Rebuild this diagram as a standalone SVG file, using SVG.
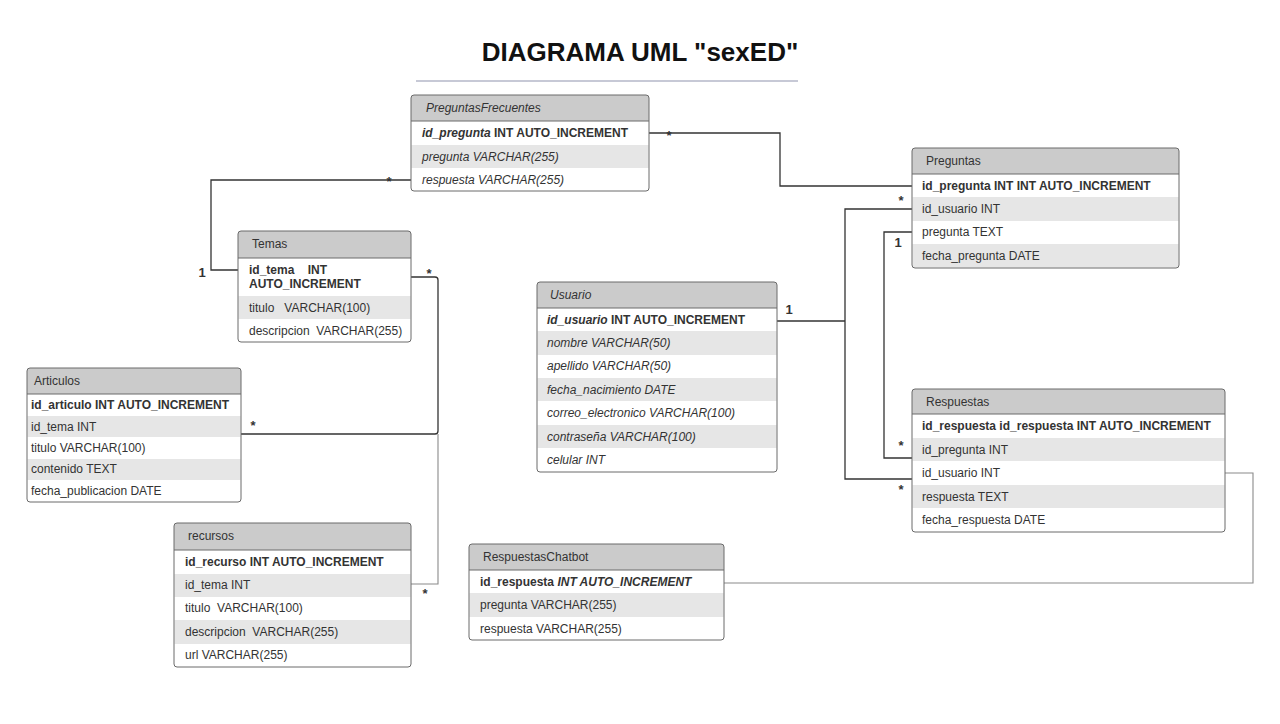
<svg xmlns="http://www.w3.org/2000/svg" width="1280" height="724" viewBox="0 0 1280 724">
<style>
text{font-family:"Liberation Sans",Arial,sans-serif;fill:#333;}
.title{font-size:26px;font-weight:bold;fill:#111;}
.hdr{fill:#cbcbcb;}
.alt{fill:#e6e6e6;}
.box{fill:none;stroke:#6a6a6a;stroke-width:1;}
.sep{stroke:#6a6a6a;stroke-width:1;}
.ht{font-size:12px;}
.t{font-size:12px;}
.b{font-weight:bold;}
.i{font-style:italic;}
.lbl{font-size:13px;font-weight:bold;text-anchor:middle;}
.one{font-size:13px;font-weight:bold;text-anchor:middle;}
.c{fill:none;stroke:#333;stroke-width:1.3;}
.cl{fill:none;stroke:#8a8a8a;stroke-width:1.1;}
</style>
<rect width="1280" height="724" fill="#fff"/>
<text class="title" x="640" y="61" text-anchor="middle">DIAGRAMA UML "sexED"</text>
<line x1="416" y1="81" x2="798" y2="81" stroke="#b4b7c9" stroke-width="1.5"/>

<g id="connectors">
<path class="c" d="M649 133 H780 V186 H912"/>
<path class="c" d="M411 180 H211 V270 H238"/>
<path class="c" d="M411 277 H435 Q438 277 438 280 V431 Q438 434 435 434 H241"/>
<path class="cl" d="M438 434 V584 H411"/>
<path class="c" d="M777 321 H845"/>
<path class="c" d="M912 209 H845 V479 H912"/>
<path class="c" d="M912 232 H884 V458 H912"/>
<path class="cl" d="M1225 473 H1253 V583 H724"/>
<text class="lbl" x="669" y="140">*</text>
<text class="lbl" x="901" y="205">*</text>
<text class="lbl" x="389" y="186">*</text>
<text class="lbl" x="429" y="278">*</text>
<text class="lbl" x="253" y="430">*</text>
<text class="lbl" x="425" y="598">*</text>
<text class="lbl" x="901" y="450">*</text>
<text class="lbl" x="901" y="494">*</text>
<text class="one" x="202" y="277">1</text>
<text class="one" x="789" y="314">1</text>
<text class="one" x="898" y="247">1</text>
</g>

<g id="PreguntasFrecuentes">
<rect x="411" y="95" width="238" height="96" rx="3" fill="#fff"/>
<rect class="hdr" x="411" y="95" width="238" height="26" rx="3"/>
<rect class="hdr" x="411" y="110" width="238" height="11"/>
<rect class="alt" x="411.5" y="145" width="237" height="23"/>
<line class="sep" x1="411" y1="121" x2="649" y2="121"/>
<rect class="box" x="411" y="95" width="238" height="96" rx="3"/>
<text class="ht i" x="426" y="112">PreguntasFrecuentes</text>
<text class="t b" x="422" y="137"><tspan class="i">id_pregunta</tspan> INT AUTO_INCREMENT</text>
<text class="t i" x="422" y="161">pregunta VARCHAR(255)</text>
<text class="t i" x="422" y="184">respuesta VARCHAR(255)</text>
</g>

<g id="Temas">
<rect x="238" y="231" width="173" height="111" rx="3" fill="#fff"/>
<rect class="hdr" x="238" y="231" width="173" height="27" rx="3"/>
<rect class="hdr" x="238" y="246" width="173" height="12"/>
<rect class="alt" x="238.5" y="296" width="172" height="23"/>
<line class="sep" x1="238" y1="258" x2="411" y2="258"/>
<rect class="box" x="238" y="231" width="173" height="111" rx="3"/>
<text class="ht" x="252" y="248">Temas</text>
<text class="t b" x="249" y="274" xml:space="preserve">id_tema    INT</text>
<text class="t b" x="249" y="288">AUTO_INCREMENT</text>
<text class="t" x="249" y="312" xml:space="preserve">titulo   VARCHAR(100)</text>
<text class="t" x="249" y="335" xml:space="preserve">descripcion  VARCHAR(255)</text>
</g>

<g id="Articulos">
<rect x="27" y="368" width="214" height="134" rx="3" fill="#fff"/>
<rect class="hdr" x="27" y="368" width="214" height="26" rx="3"/>
<rect class="hdr" x="27" y="383" width="214" height="11"/>
<rect class="alt" x="27.5" y="416" width="213" height="21"/>
<rect class="alt" x="27.5" y="459" width="213" height="21"/>
<line class="sep" x1="27" y1="394" x2="241" y2="394"/>
<rect class="box" x="27" y="368" width="214" height="134" rx="3"/>
<text class="ht" x="34" y="385">Articulos</text>
<text class="t b" x="31" y="409">id_articulo INT AUTO_INCREMENT</text>
<text class="t" x="31" y="431">id_tema INT</text>
<text class="t" x="31" y="452">titulo VARCHAR(100)</text>
<text class="t" x="31" y="473">contenido TEXT</text>
<text class="t" x="31" y="495">fecha_publicacion DATE</text>
</g>

<g id="recursos">
<rect x="174" y="523" width="237" height="144" rx="3" fill="#fff"/>
<rect class="hdr" x="174" y="523" width="237" height="27" rx="3"/>
<rect class="hdr" x="174" y="538" width="237" height="12"/>
<rect class="alt" x="174.5" y="574" width="236" height="23"/>
<rect class="alt" x="174.5" y="620" width="236" height="24"/>
<line class="sep" x1="174" y1="550" x2="411" y2="550"/>
<rect class="box" x="174" y="523" width="237" height="144" rx="3"/>
<text class="ht" x="188" y="540">recursos</text>
<text class="t b" x="185" y="566">id_recurso INT AUTO_INCREMENT</text>
<text class="t" x="185" y="589">id_tema INT</text>
<text class="t" x="185" y="612" xml:space="preserve">titulo  VARCHAR(100)</text>
<text class="t" x="185" y="636" xml:space="preserve">descripcion  VARCHAR(255)</text>
<text class="t" x="185" y="659">url VARCHAR(255)</text>
</g>

<g id="Usuario">
<rect x="537" y="282" width="240" height="190" rx="3" fill="#fff"/>
<rect class="hdr" x="537" y="282" width="240" height="26" rx="3"/>
<rect class="hdr" x="537" y="297" width="240" height="11"/>
<rect class="alt" x="537.5" y="331" width="239" height="24"/>
<rect class="alt" x="537.5" y="378" width="239" height="23"/>
<rect class="alt" x="537.5" y="425" width="239" height="23"/>
<line class="sep" x1="537" y1="308" x2="777" y2="308"/>
<rect class="box" x="537" y="282" width="240" height="190" rx="3"/>
<text class="ht i" x="550" y="299">Usuario</text>
<text class="t b" x="547" y="324"><tspan class="i">id_usuario</tspan> INT AUTO_INCREMENT</text>
<text class="t i" x="547" y="347">nombre VARCHAR(50)</text>
<text class="t i" x="547" y="370">apellido VARCHAR(50)</text>
<text class="t i" x="547" y="394">fecha_nacimiento DATE</text>
<text class="t i" x="547" y="417">correo_electronico VARCHAR(100)</text>
<text class="t i" x="547" y="441">contraseña VARCHAR(100)</text>
<text class="t i" x="547" y="464">celular INT</text>
</g>

<g id="Preguntas">
<rect x="912" y="148" width="267" height="120" rx="3" fill="#fff"/>
<rect class="hdr" x="912" y="148" width="267" height="26" rx="3"/>
<rect class="hdr" x="912" y="163" width="267" height="11"/>
<rect class="alt" x="912.5" y="197" width="266" height="24"/>
<rect class="alt" x="912.5" y="244" width="266" height="23.5"/>
<line class="sep" x1="912" y1="174" x2="1179" y2="174"/>
<rect class="box" x="912" y="148" width="267" height="120" rx="3"/>
<text class="ht" x="926" y="165">Preguntas</text>
<text class="t b" x="922" y="190">id_pregunta INT INT AUTO_INCREMENT</text>
<text class="t" x="922" y="213">id_usuario INT</text>
<text class="t" x="922" y="236">pregunta TEXT</text>
<text class="t" x="922" y="260">fecha_pregunta DATE</text>
</g>

<g id="Respuestas">
<rect x="912" y="389" width="313" height="143" rx="3" fill="#fff"/>
<rect class="hdr" x="912" y="389" width="313" height="25" rx="3"/>
<rect class="hdr" x="912" y="403" width="313" height="11"/>
<rect class="alt" x="912.5" y="438" width="312" height="23"/>
<rect class="alt" x="912.5" y="485" width="312" height="23"/>
<line class="sep" x1="912" y1="414" x2="1225" y2="414"/>
<rect class="box" x="912" y="389" width="313" height="143" rx="3"/>
<text class="ht" x="926" y="406">Respuestas</text>
<text class="t b" x="922" y="430">id_respuesta id_respuesta INT AUTO_INCREMENT</text>
<text class="t" x="922" y="454">id_pregunta INT</text>
<text class="t" x="922" y="477">id_usuario INT</text>
<text class="t" x="922" y="501">respuesta TEXT</text>
<text class="t" x="922" y="524">fecha_respuesta DATE</text>
</g>

<g id="RespuestasChatbot">
<rect x="469" y="544" width="255" height="96" rx="3" fill="#fff"/>
<rect class="hdr" x="469" y="544" width="255" height="26" rx="3"/>
<rect class="hdr" x="469" y="559" width="255" height="11"/>
<rect class="alt" x="469.5" y="593" width="254" height="24"/>
<line class="sep" x1="469" y1="570" x2="724" y2="570"/>
<rect class="box" x="469" y="544" width="255" height="96" rx="3"/>
<text class="ht" x="483" y="561">RespuestasChatbot</text>
<text class="t b" x="480" y="586">id_respuesta <tspan class="i">INT AUTO_INCREMENT</tspan></text>
<text class="t" x="480" y="609">pregunta VARCHAR(255)</text>
<text class="t" x="480" y="633">respuesta VARCHAR(255)</text>
</g>
</svg>
